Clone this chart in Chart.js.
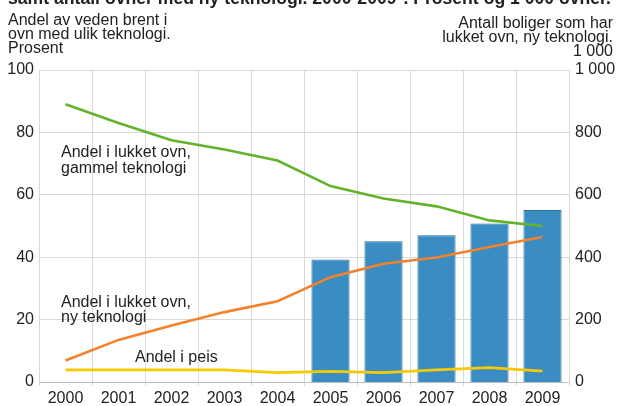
<!DOCTYPE html>
<html>
<head>
<meta charset="utf-8">
<script src="https://cdn.jsdelivr.net/npm/chart.js@4.4.1/dist/chart.umd.min.js"></script>
<style>
  html, body { margin: 0; padding: 0; background: #fff; }
  #wrap { width: 620px; height: 406px; }
</style>
</head>
<body>
<div id="wrap"><canvas id="chart" width="620" height="406"></canvas></div>
<script>
// data
const years = ["2000", "2001", "2002", "2003", "2004", "2005", "2006", "2007", "2008", "2009"];
const gammelTek = [89, 83, 77.5, 74.5, 71, 62.8, 58.8, 56.3, 51.8, 50];   // prosent
const nyTek = [6.9, 13.5, 18.1, 22.4, 25.9, 33.6, 37.9, 39.9, 43.3, 46.5]; // prosent
const peis = [3.9, 3.9, 3.9, 3.9, 3.0, 3.4, 3.0, 3.9, 4.6, 3.5];          // prosent
const boliger = [null, null, null, null, null, 393, 451, 470, 508, 551];  // 1 000 boliger
const leftTicks = [0, 20, 40, 60, 80, 100];
const rightTicks = [0, 200, 400, 600, 800, 1000];

const FONT = "'Liberation Sans', Arial, sans-serif";
const TXT = "#222";

function spaced(v) {
    return String(v).replace(/\B(?=(\d{3})+(?!\d))/g, " ");
}

// text around the plot: title, axis titles, series labels
const textPlugin = {
    id: "texts",
    afterDraw(chart) {
        const ctx = chart.ctx;
        ctx.save();
        ctx.fillStyle = TXT;

        // title, cut at the top of the picture
        const title = "samt antall ovner med ny teknologi. 2000-2009*. Prosent og 1 000 ovner.";
        ctx.font = "bold 16px " + FONT;
        let w = ctx.measureText(title).width;
        let fs = 16 * 603 / w;
        ctx.font = "bold " + fs.toFixed(2) + "px " + FONT;
        ctx.textBaseline = "alphabetic";
        ctx.textAlign = "left";
        ctx.fillText(title, 8, 4);

        ctx.font = "16px " + FONT;
        ctx.textBaseline = "middle";
        ctx.textAlign = "left";
        ["Andel av veden brent i", "ovn med ulik teknologi.", "Prosent"].forEach(function (t, i) {
            ctx.fillText(t, 8, 20.5 + i * 14.2);
        });

        ctx.textAlign = "right";
        ["Antall boliger som har", "lukket ovn, ny teknologi.", "1 000"].forEach(function (t, i) {
            ctx.fillText(t, 613, 23.5 + i * 14.2);
        });

        // series labels
        ctx.textAlign = "left";
        ctx.fillText("Andel i lukket ovn,", 61, 153);
        ctx.fillText("gammel teknologi", 61, 168.5);
        ctx.fillText("Andel i lukket ovn,", 61, 302.5);
        ctx.fillText("ny teknologi", 61, 318);
        ctx.fillText("Andel i peis", 135, 358);
        ctx.restore();
    }
};

const lineStyle = {
    type: "line",
    yAxisID: "y",
    borderWidth: 2.6,
    pointRadius: 0,
    tension: 0,
    fill: false,
    order: 1
};

new Chart(document.getElementById("chart").getContext("2d"), {
    data: {
        labels: years,
        datasets: [
            Object.assign({}, lineStyle, { label: "Andel i lukket ovn, gammel teknologi", data: gammelTek, borderColor: "#64b22c" }),
            Object.assign({}, lineStyle, { label: "Andel i lukket ovn, ny teknologi", data: nyTek, borderColor: "#f4822c" }),
            Object.assign({}, lineStyle, { label: "Andel i peis", data: peis, borderColor: "#f8c900" }),
            {
                type: "bar",
                label: "Antall boliger med lukket ovn, ny teknologi",
                yAxisID: "y1",
                data: boliger,
                backgroundColor: "#3a8dc3",
                borderColor: "#2a6e9c",
                borderWidth: 1,
                barPercentage: 0.72,
                categoryPercentage: 1,
                order: 2
            }
        ]
    },
    options: {
        responsive: false,
        animation: false,
        layout: { padding: { top: 70, left: 0, right: 0, bottom: 0 } },
        plugins: {
            legend: { display: false },
            tooltip: { enabled: false }
        },
        scales: {
            x: {
                offset: true,
                grid: { color: "#d9d9d9", offset: true, tickLength: 4 },
                border: { color: "#bdbdbd" },
                ticks: { color: TXT, font: { family: FONT, size: 16 }, padding: 3, maxRotation: 0 },
                afterFit: function (s) { s.height = 24; }
            },
            y: {
                position: "left",
                min: 0,
                max: 100,
                afterBuildTicks: function (s) { s.ticks = leftTicks.map(v => ({ value: v })); },
                grid: { color: "#d9d9d9", drawTicks: false },
                border: { color: "#d9d9d9" },
                ticks: { color: TXT, font: { family: FONT, size: 16 }, padding: 5 },
                afterFit: function (s) { s.width = 39; }
            },
            y1: {
                position: "right",
                min: 0,
                max: 1000,
                afterBuildTicks: function (s) { s.ticks = rightTicks.map(v => ({ value: v })); },
                grid: { display: false, drawTicks: false },
                border: { color: "#d9d9d9" },
                ticks: { color: TXT, font: { family: FONT, size: 16 }, padding: 6, callback: v => spaced(v) },
                afterFit: function (s) { s.width = 51; }
            }
        }
    },
    plugins: [textPlugin]
});
</script>
</body>
</html>
